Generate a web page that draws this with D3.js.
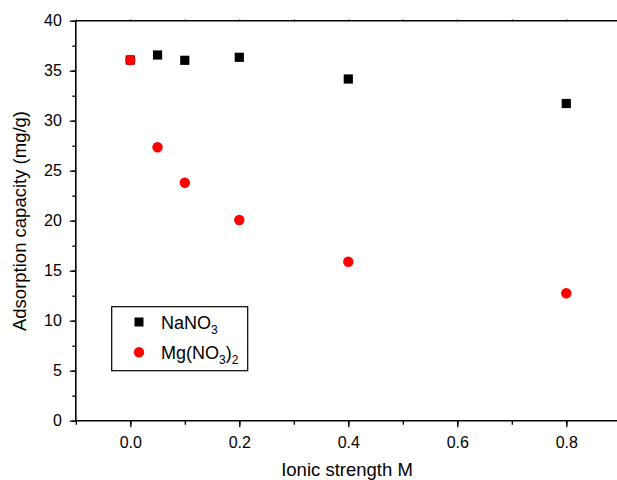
<!DOCTYPE html>
<html><head><meta charset="utf-8">
<script src="https://cdn.jsdelivr.net/npm/d3@7"></script>
<style>body{margin:0;background:#fff}svg{display:block;font-family:"Liberation Sans",Arial,sans-serif}</style>
</head><body>
<svg id="c" width="617" height="480"></svg>
<script>
const xValues = [0, 0.05, 0.1, 0.2, 0.4, 0.8];
const naValues = [36.07, 36.57, 36.04, 36.34, 34.17, 31.72];
const mgValues = [36.07, 27.34, 23.8, 20.07, 15.9, 12.74];
const xTicks = [0.0, 0.2, 0.4, 0.6, 0.8];
const yTicks = [0, 5, 10, 15, 20, 25, 30, 35, 40];

const svg = d3.select("#c");
const x = d3.scaleLinear().domain([-0.1, 0.9]).range([75.8, 620.8]);
const y = d3.scaleLinear().domain([0, 40]).range([420.7, 20.7]);

// bottom axis
const gx = svg.append("g").attr("transform", `translate(0,${y(0)})`)
  .call(d3.axisBottom(x).tickValues(d3.range(-1, 9).map(d => d / 10)).tickSize(4).tickFormat(""));
gx.select(".domain").remove();
gx.selectAll("line").attr("stroke", "#000").attr("stroke-width", 1.3);
const gx2 = svg.append("g").attr("transform", `translate(0,${y(0)})`)
  .call(d3.axisBottom(x).tickValues(xTicks).tickSize(6.5).tickPadding(9).tickFormat(d3.format(".1f")));
gx2.select(".domain").remove();
gx2.selectAll("line").attr("stroke", "#000").attr("stroke-width", 1.3);
gx2.selectAll("text").attr("font-size", 16).attr("fill", "#000").attr("font-family", "Liberation Sans, Arial, sans-serif");

// left axis
const gy = svg.append("g").attr("transform", `translate(${x(-0.1)},0)`)
  .call(d3.axisLeft(y).tickValues(d3.range(0, 41, 2.5)).tickSize(3.5).tickFormat(""));
gy.select(".domain").remove();
gy.selectAll("line").attr("stroke", "#000").attr("stroke-width", 1.3);
const gy2 = svg.append("g").attr("transform", `translate(${x(-0.1)},0)`)
  .call(d3.axisLeft(y).tickValues(yTicks).tickSize(6).tickPadding(8).tickFormat(d3.format("d")));
gy2.select(".domain").remove();
gy2.selectAll("line").attr("stroke", "#000").attr("stroke-width", 1.3);
gy2.selectAll("text").attr("font-size", 16).attr("fill", "#000").attr("font-family", "Liberation Sans, Arial, sans-serif");

// top axis minor marks
svg.append("g").attr("transform", `translate(0,${y(40)})`)
  .call(d3.axisTop(x).tickValues(d3.range(-1, 9).map(d => d / 10)).tickSize(1.5).tickFormat(""))
  .call(g => g.select(".domain").remove())
  .selectAll("line").attr("stroke", "#555").attr("stroke-width", 1);

// frame lines
svg.append("line").attr("x1", x(-0.1)).attr("x2", 617).attr("y1", y(0)).attr("y2", y(0)).attr("stroke", "#000").attr("stroke-width", 1.6);
svg.append("line").attr("x1", x(-0.1)).attr("x2", 617).attr("y1", y(40)).attr("y2", y(40)).attr("stroke", "#000").attr("stroke-width", 1.6);
svg.append("line").attr("x1", x(-0.1)).attr("x2", x(-0.1)).attr("y1", y(40)).attr("y2", y(0)).attr("stroke", "#000").attr("stroke-width", 1.6);

// data
svg.append("g").selectAll("rect").data(xValues).join("rect")
  .attr("x", (d) => x(d) - 4.6).attr("y", (d, i) => y(naValues[i]) - 4.6)
  .attr("width", 9.2).attr("height", 9.2).attr("fill", "#000");
svg.append("g").selectAll("circle").data(xValues).join("circle")
  .attr("cx", d => x(d)).attr("cy", (d, i) => y(mgValues[i])).attr("r", 5.2).attr("fill", "#ff0000");

// legend
const lg = svg.append("g");
lg.append("rect").attr("x", 111.7).attr("y", 306.7).attr("width", 136).attr("height", 64)
  .attr("fill", "#fff").attr("stroke", "#000").attr("stroke-width", 1.2);
lg.append("rect").attr("x", 134.5).attr("y", 317.5).attr("width", 9).attr("height", 9).attr("fill", "#000");
lg.append("circle").attr("cx", 139).attr("cy", 352.3).attr("r", 5.2).attr("fill", "#ff0000");
const t1 = lg.append("text").attr("x", 161).attr("y", 329).attr("font-size", 18).attr("fill", "#000");
t1.append("tspan").text("NaNO");
t1.append("tspan").attr("font-size", 12).attr("dy", 5).text("3");
const t2 = lg.append("text").attr("x", 161).attr("y", 359).attr("font-size", 18).attr("fill", "#000");
t2.append("tspan").text("Mg(NO");
t2.append("tspan").attr("font-size", 12).attr("dy", 5).text("3");
t2.append("tspan").attr("dy", -5).text(")");
t2.append("tspan").attr("font-size", 12).attr("dy", 5).text("2");

// axis titles
svg.append("text").attr("x", 347).attr("y", 476).attr("text-anchor", "middle")
  .attr("font-size", 18.5).attr("fill", "#000").text("Ionic strength M");
svg.append("text").attr("transform", "translate(26,221) rotate(-90)").attr("text-anchor", "middle")
  .attr("font-size", 18.5).attr("fill", "#000").text("Adsorption capacity (mg/g)");
</script>
</body></html>
